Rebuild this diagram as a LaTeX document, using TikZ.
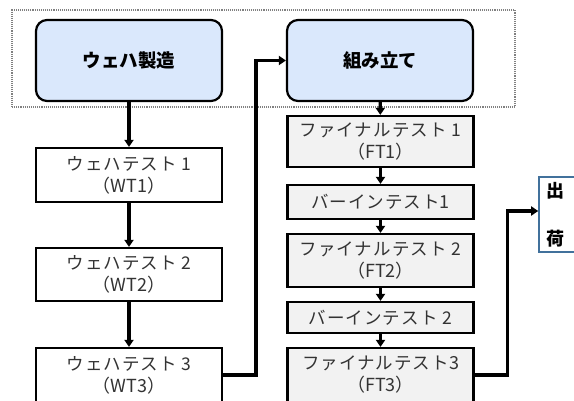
\documentclass[tikz,border=0pt]{standalone}
\usepackage{fontspec}
\setmainfont{Noto Sans CJK JP}
\newfontfamily\jp[LetterSpace=6]{Noto Sans CJK JP}
\newfontfamily\jplat{Noto Sans CJK JP}
\usetikzlibrary{arrows.meta}
\definecolor{bluefill}{HTML}{DAE8FC}
\definecolor{grayfill}{HTML}{F2F2F2}
\definecolor{shipblue}{HTML}{41719C}
\definecolor{txtgray}{HTML}{333333}
\newcommand{\lat}[1]{{\jplat\fontsize{18}{22}\selectfont #1}}
\begin{document}
\begin{tikzpicture}[x=1pt,y=-1pt,
  stage/.style={draw=black,line width=2.2pt,fill=bluefill,rounded corners=11pt,minimum width=186pt,minimum height=81pt,inner sep=0pt,font=\fontsize{18.5}{21}\selectfont\bfseries},
  wbox/.style={draw=black,line width=2.2pt,fill=white,minimum width=186pt,inner sep=0pt,align=center,text=txtgray,font=\jp\fontsize{17.5}{22}\selectfont},
  fbox/.style={wbox,fill=grayfill},
  arr/.style={line width=3.4pt,-{Triangle[length=7pt,width=9pt]}}]
\useasboundingbox (0,0) rectangle (574,401);
\begin{scope}
\clip (0,0) rectangle (574,401);
\node[draw=gray,densely dotted,line width=1.1pt,minimum width=503pt,minimum height=97pt,inner sep=0pt] (grp) at (263.5,58.5) {};
\node[stage] (waf) at (129,60.5) {ウェハ製造};
\node[stage] (asm) at (380,60.5) {組み立て};
\node[wbox,minimum height=54pt] (wt1) at (129,175) {ウェハテスト 1\\\lat{（WT1）}};
\node[wbox,minimum height=53pt] (wt2) at (129,274.5) {ウェハテスト 2\\\lat{（WT2）}};
\node[wbox,minimum height=54pt] (wt3) at (129,375) {ウェハテスト 3\\\lat{（WT3）}};
\node[fbox,minimum height=51pt] (ft1) at (380.5,141.5) {ファイナルテスト 1\\\lat{（FT1）}};
\node[fbox,minimum height=34pt] (bi1) at (380.5,202) {バーインテスト\lat{1}};
\node[fbox,minimum height=53pt] (ft2) at (380.5,260.5) {ファイナルテスト 2\\\lat{（FT2）}};
\node[fbox,minimum height=31pt] (bi2) at (380.5,317.5) {バーインテスト 2};
\node[fbox,minimum height=54pt] (ft3) at (380.5,375) {ファイナルテスト\lat{3}\\\lat{（FT3）}};
\node[draw=shipblue,line width=1.6pt,fill=white,minimum width=41pt,minimum height=75pt,inner xsep=7pt,inner ysep=0pt,text width=27pt,align=left,font=\fontsize{18}{20}\selectfont\bfseries] (ship) at (559.5,214.5) {出\\[28pt]荷};
\draw[arr] (waf) -- (wt1);
\draw[arr] (wt1) -- (wt2);
\draw[arr] (wt2) -- (wt3);
\draw[arr] (asm) -- (ft1);
\draw[arr] (ft1) -- (bi1);
\draw[arr] (bi1) -- (ft2);
\draw[arr] (ft2) -- (bi2);
\draw[arr] (bi2) -- (ft3);
\draw[arr] (wt3.east) -- ++(33,0) |- (asm.west);
\draw[arr] (ft3.east) -- ++(33,0) |- ([yshift=3.5pt]ship.west);
\end{scope}
\end{tikzpicture}
\end{document}
